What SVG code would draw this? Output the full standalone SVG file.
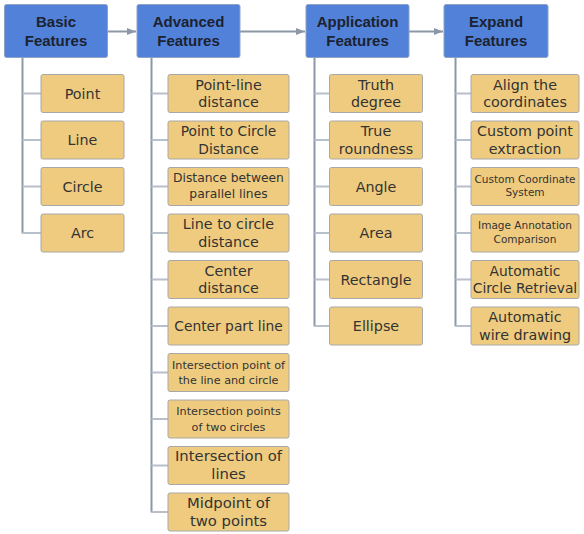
<svg xmlns="http://www.w3.org/2000/svg" width="584" height="534" viewBox="0 0 584 534">
<style>
.h{fill:#5181d9;stroke:#8ea3c4;stroke-width:1}
.c{fill:#efcb7f;stroke:#a8a8a8;stroke-width:1}
.ht{font-family:"Liberation Sans",Arial,sans-serif;font-weight:bold;font-size:15px;fill:#1c2230;text-anchor:middle}
.t{font-family:"DejaVu Sans",sans-serif;font-size:14.3px;fill:#333;text-anchor:middle}
.s1{font-size:13.8px}
.s2{font-size:12.3px}
.s3{font-size:11.2px}
.s4{font-size:10.5px}
.s5{font-size:14.8px}
.trunk{stroke:#8c97a8;stroke-width:2;fill:none}
.br{stroke:#b8c0cc;stroke-width:2;fill:none}
.ar{stroke:#8c97a8;stroke-width:2;fill:none}
</style>
<defs>
<marker id="ah" markerWidth="9" markerHeight="7" refX="9" refY="3.5" orient="auto" markerUnits="userSpaceOnUse">
<path d="M0,0 L9,3.5 L0,7 Z" fill="#8c97a8"/>
</marker>
</defs>
<g id="connectors">
<line class="ar" x1="108" y1="31.5" x2="136" y2="31.5" marker-end="url(#ah)"/>
<line class="ar" x1="240" y1="31.5" x2="305" y2="31.5" marker-end="url(#ah)"/>
<line class="ar" x1="409" y1="31.5" x2="443" y2="31.5" marker-end="url(#ah)"/>
<path class="trunk" d="M22.5,57 V233.5"/>
<path class="br" d="M22.5,93.5 H41 M22.5,140 H41 M22.5,186.5 H41 M22.5,233 H41"/>
<path class="trunk" d="M151.5,57 V512.5"/>
<path class="br" d="M151.5,93.5 H168 M151.5,140 H168 M151.5,186.5 H168 M151.5,233 H168 M151.5,279.5 H168 M151.5,326 H168 M151.5,372.5 H168 M151.5,419 H168 M151.5,465.5 H168 M151.5,512 H168"/>
<path class="trunk" d="M314.5,57 V326.5"/>
<path class="br" d="M314.5,93.5 H329 M314.5,140 H329 M314.5,186.5 H329 M314.5,233 H329 M314.5,279.5 H329 M314.5,326 H329"/>
<path class="trunk" d="M455.5,57 V326.5"/>
<path class="br" d="M455.5,93.5 H471 M455.5,140 H471 M455.5,186.5 H471 M455.5,233 H471 M455.5,279.5 H471 M455.5,326 H471"/>
</g>
<g id="basic"><rect class="h" x="4.5" y="4.5" width="103" height="53" rx="2"/><text class="ht" x="56" y="27">Basic</text><text class="ht" x="56" y="46">Features</text></g>
<g id="advanced"><rect class="h" x="137" y="4.5" width="103" height="53" rx="2"/><text class="ht" x="188.5" y="27">Advanced</text><text class="ht" x="188.5" y="46">Features</text></g>
<g id="application"><rect class="h" x="306" y="4.5" width="103" height="53" rx="2"/><text class="ht" x="357.5" y="27">Application</text><text class="ht" x="357.5" y="46">Features</text></g>
<g id="expand"><rect class="h" x="444" y="4.5" width="104" height="53" rx="2"/><text class="ht" x="496" y="27">Expand</text><text class="ht" x="496" y="46">Features</text></g>

<g id="point"><rect class="c" x="41" y="74.5" width="83" height="38" rx="2"/><text class="t" x="82.5" y="98.5">Point</text></g>
<g id="line"><rect class="c" x="41" y="121" width="83" height="38" rx="2"/><text class="t" x="82.5" y="145">Line</text></g>
<g id="circle"><rect class="c" x="41" y="167.5" width="83" height="38" rx="2"/><text class="t" x="82.5" y="191.5">Circle</text></g>
<g id="arc"><rect class="c" x="41" y="214" width="83" height="38" rx="2"/><text class="t" x="82.5" y="238">Arc</text></g>

<g id="a1"><rect class="c" x="168" y="74.5" width="121" height="38" rx="2"/><text class="t" x="228.5" y="89.5">Point-line</text><text class="t" x="228.5" y="107">distance</text></g>
<g id="a2"><rect class="c" x="168" y="121" width="121" height="38" rx="2"/><text class="t s1" x="228.5" y="136">Point to Circle</text><text class="t s1" x="228.5" y="153.5">Distance</text></g>
<g id="a3"><rect class="c" x="168" y="167.5" width="121" height="38" rx="2"/><text class="t s2" x="228.5" y="181.5">Distance between</text><text class="t s2" x="228.5" y="198">parallel lines</text></g>
<g id="a4"><rect class="c" x="168" y="214" width="121" height="38" rx="2"/><text class="t" x="228.5" y="229">Line to circle</text><text class="t" x="228.5" y="246.5">distance</text></g>
<g id="a5"><rect class="c" x="168" y="260.5" width="121" height="38" rx="2"/><text class="t" x="228.5" y="275.5">Center</text><text class="t" x="228.5" y="293">distance</text></g>
<g id="a6"><rect class="c" x="168" y="307" width="121" height="38" rx="2"/><text class="t s1" x="228.5" y="331">Center part line</text></g>
<g id="a7"><rect class="c" x="168" y="353.5" width="121" height="38" rx="2"/><text class="t s3" x="228.5" y="369">Intersection point of</text><text class="t s3" x="228.5" y="384">the line and circle</text></g>
<g id="a8"><rect class="c" x="168" y="400" width="121" height="38" rx="2"/><text class="t s3" x="228.5" y="415">Intersection points</text><text class="t s3" x="228.5" y="430.5">of two circles</text></g>
<g id="a9"><rect class="c" x="168" y="446.5" width="121" height="38" rx="2"/><text class="t s5" x="228.5" y="461">Intersection of</text><text class="t s5" x="228.5" y="479">lines</text></g>
<g id="a10"><rect class="c" x="168" y="493" width="121" height="38" rx="2"/><text class="t s5" x="228.5" y="508">Midpoint of</text><text class="t s5" x="228.5" y="526">two points</text></g>

<g id="p1"><rect class="c" x="329.5" y="74.5" width="93" height="38" rx="2"/><text class="t" x="376" y="89.5">Truth</text><text class="t" x="376" y="107">degree</text></g>
<g id="p2"><rect class="c" x="329.5" y="121" width="93" height="38" rx="2"/><text class="t" x="376" y="136">True</text><text class="t" x="376" y="153.5">roundness</text></g>
<g id="p3"><rect class="c" x="329.5" y="167.5" width="93" height="38" rx="2"/><text class="t" x="376" y="191.5">Angle</text></g>
<g id="p4"><rect class="c" x="329.5" y="214" width="93" height="38" rx="2"/><text class="t" x="376" y="238">Area</text></g>
<g id="p5"><rect class="c" x="329.5" y="260.5" width="93" height="38" rx="2"/><text class="t" x="376" y="284.5">Rectangle</text></g>
<g id="p6"><rect class="c" x="329.5" y="307" width="93" height="38" rx="2"/><text class="t" x="376" y="331">Ellipse</text></g>

<g id="e1"><rect class="c" x="471" y="74.5" width="108" height="38" rx="2"/><text class="t" x="525" y="89.5">Align the</text><text class="t" x="525" y="107">coordinates</text></g>
<g id="e2"><rect class="c" x="471" y="121" width="108" height="38" rx="2"/><text class="t" x="525" y="136">Custom point</text><text class="t" x="525" y="153.5">extraction</text></g>
<g id="e3"><rect class="c" x="471" y="167.5" width="108" height="38" rx="2"/><text class="t s4" x="525" y="182.5">Custom Coordinate</text><text class="t s4" x="525" y="196">System</text></g>
<g id="e4"><rect class="c" x="471" y="214" width="108" height="38" rx="2"/><text class="t s4" x="525" y="229">Image Annotation</text><text class="t s4" x="525" y="242.5">Comparison</text></g>
<g id="e5"><rect class="c" x="471" y="260.5" width="108" height="38" rx="2"/><text class="t s1" x="525" y="275.5">Automatic</text><text class="t s1" x="525" y="293">Circle Retrieval</text></g>
<g id="e6"><rect class="c" x="471" y="307" width="108" height="38" rx="2"/><text class="t" x="525" y="322">Automatic</text><text class="t" x="525" y="339.5">wire drawing</text></g>
</svg>
